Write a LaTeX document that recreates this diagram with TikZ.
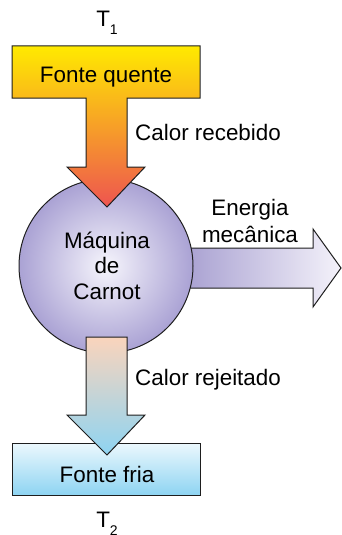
\documentclass[tikz,border=0pt]{standalone}
\usepackage{fontspec}
\setmainfont{Liberation Sans}
\usepackage{tikz}
\usetikzlibrary{positioning, calc}
\definecolor{hotyellow}{RGB}{255,234,0}
\definecolor{hotorange}{RGB}{247,168,62}
\definecolor{hotred}{RGB}{238,84,80}
\definecolor{enginelight}{RGB}{246,245,252}
\definecolor{engineviolet}{RGB}{170,162,212}
\definecolor{workviolet}{RGB}{166,158,208}
\definecolor{workpale}{RGB}{244,242,250}
\definecolor{peach}{RGB}{250,212,188}
\definecolor{coldblue}{RGB}{142,212,242}
\definecolor{coldpale}{RGB}{236,248,253}
\definecolor{outline}{RGB}{30,30,30}

\begin{document}
\begin{tikzpicture}[
    x=1pt, y=-1pt,
    shape line/.style={draw=outline, line width=1pt, line join=miter},
    every node/.style={inner sep=0pt, font=\fontsize{22.4}{25.5}\selectfont},
    sub/.style={font=\fontsize{14}{14}\selectfont}
]
    \useasboundingbox (0,0) rectangle (341,535);

    % work leaving the engine
    \path[shape line, left color=workviolet, right color=workpale]
        (180,248) -- (313,248) -- (313,229) -- (341,268) -- (313,307) -- (313,288) -- (180,288) -- cycle;

    \node[circle, shape line, minimum size=174pt, inner color=enginelight, outer color=engineviolet] (engine) at (106,266) {};

    % hot reservoir with incoming heat
    \path[shape line, top color=hotyellow, middle color=hotorange, bottom color=hotred]
        (12,46) -- (200,46) -- (200,98) -- (127,98) -- (127,167) -- (145,167) -- (107,207)
        -- (67,167) -- (86,167) -- (86,98) -- (12,98) -- cycle;

    % cold reservoir with rejected heat
    \path[shape line, top color=coldpale, bottom color=coldblue] (12,443) rectangle (200,495);
    \path[shape line, top color=peach, bottom color=coldblue]
        (86,337) -- (127,337) -- (127,415) -- (145,415) -- (107,455) -- (67,415) -- (86,415) -- cycle;

    \node[anchor=base] (hot) at (106,82) {Fonte quente};
    \node[anchor=base] (cold) at (107,482) {Fonte fria};
    \node[anchor=base] (t1) at (107,27) {T\raisebox{-8pt}{\fontsize{14}{14}\selectfont 1}};
    \node[anchor=base] (t2) at (107,527) {T\raisebox{-8pt}{\fontsize{14}{14}\selectfont 2}};
    \node[anchor=base west] (qin) at (135,140) {Calor recebido};
    \node[anchor=base west] (qout) at (135,385) {Calor rejeitado};

    \node[anchor=base, align=center] (name) at (107,299) {Máquina\\de\\Carnot};
    \node[anchor=base, align=center, font=\fontsize{22.4}{27}\selectfont] (work) at (250,242) {Energia\\mecânica};
\end{tikzpicture}
\end{document}
